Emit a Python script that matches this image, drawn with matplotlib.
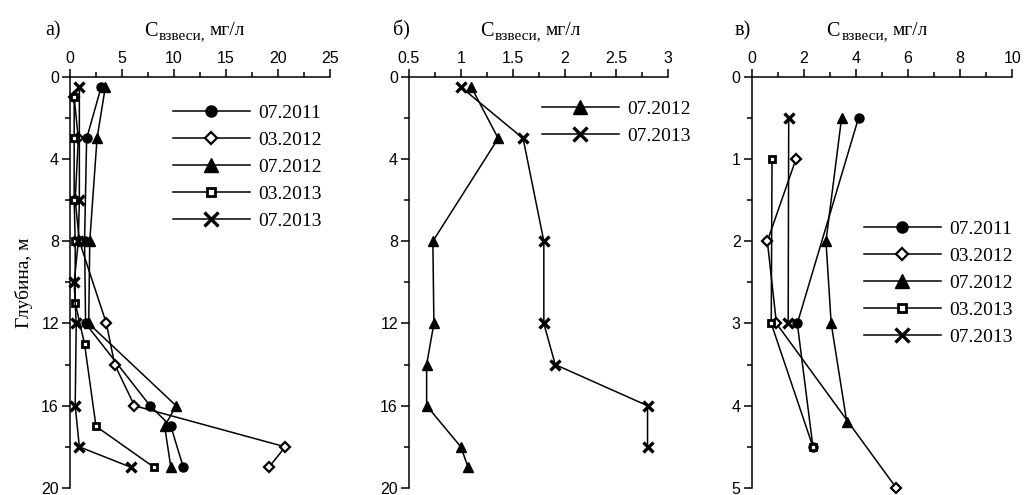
import matplotlib
matplotlib.use("Agg")
from matplotlib import pyplot as plt
from matplotlib.ticker import MultipleLocator
from matplotlib.lines import Line2D

plt.rcParams["font.family"] = ["Liberation Sans", "DejaVu Sans"]

SERIF = ["Liberation Serif", "DejaVu Serif"]

# ---- panel a) ----
a_0711_d = [0.5, 3, 8, 12, 16, 17, 19]
a_0711_v = [3.0, 1.6, 1.4, 1.5, 7.7, 9.7, 10.9]
a_0312_d = [1, 3, 6, 8, 12, 14, 16, 18, 19]
a_0312_v = [0.4, 0.8, 0.5, 0.9, 3.5, 4.3, 6.2, 20.7, 19.1]
a_0712_d = [0.5, 3, 8, 12, 16, 17, 19]
a_0712_v = [3.4, 2.6, 1.9, 1.8, 10.2, 9.1, 9.7]
a_0313_d = [1, 3, 6, 8, 11, 13, 17, 19]
a_0313_v = [0.4, 0.4, 0.4, 0.5, 0.5, 1.4, 2.5, 8.1]
a_0713_d = [0.5, 6, 8, 10, 12, 16, 18, 19]
a_0713_v = [0.9, 0.9, 0.8, 0.4, 0.6, 0.5, 0.9, 5.9]

# ---- panel б) ----
b_0712_d = [0.5, 3, 8, 12, 14, 16, 18, 19]
b_0712_v = [1.10, 1.36, 0.73, 0.74, 0.67, 0.67, 1.00, 1.07]
b_0713_d = [0.5, 3, 8, 12, 14, 16, 18]
b_0713_v = [1.00, 1.60, 1.80, 1.80, 1.91, 2.80, 2.80]

# ---- panel в) ----
c_0711_d = [0.5, 3, 4.5]
c_0711_v = [4.1, 1.75, 2.35]
c_0312_d = [1, 2, 3, 5]
c_0312_v = [1.7, 0.6, 0.95, 5.55]
c_0712_d = [0.5, 2, 3, 4.2]
c_0712_v = [3.45, 2.85, 3.05, 3.65]
c_0313_d = [1, 3, 4.5]
c_0313_v = [0.78, 0.75, 2.35]
c_0713_d = [0.5, 3]
c_0713_v = [1.42, 1.4]

labels = ["07.2011", "03.2012", "07.2012", "03.2013", "07.2013"]

styles = {
    "07.2011": dict(marker="o", ms=6.5, mfc="black", mec="black", mew=1),
    "03.2012": dict(marker="D", ms=4.8, mfc="white", mec="black", mew=1.6),
    "07.2012": dict(marker="^", ms=7.5, mfc="black", mec="black", mew=1),
    "03.2013": dict(marker="s", ms=4.6, mfc="white", mec="black", mew=2.0),
    "07.2013": dict(marker="x", ms=6.5, mfc="black", mec="black", mew=2.4),
}
legend_ms = {"07.2011": 8, "03.2012": 6.5, "07.2012": 10, "03.2013": 6, "07.2013": 9.5}

W, H = 1024, 495
fig = plt.figure(figsize=(W / 100, H / 100), dpi=100)


def make_axes(left, right, xlim, xmaj, xmin, ylim, ymaj, ymin):
    ax = fig.add_axes([left / W, (H - 488) / H, (right - left) / W, (488 - 76.7) / H])
    ax.set_xlim(*xlim)
    ax.set_ylim(ylim, 0)
    ax.xaxis.set_major_locator(MultipleLocator(xmaj))
    ax.xaxis.set_minor_locator(MultipleLocator(xmin))
    ax.yaxis.set_major_locator(MultipleLocator(ymaj))
    ax.yaxis.set_minor_locator(MultipleLocator(ymin))
    ax.xaxis.tick_top()
    ax.spines["right"].set_visible(False)
    ax.spines["bottom"].set_visible(False)
    for s in ("top", "left"):
        ax.spines[s].set_linewidth(1.1)
    ax.tick_params(which="major", direction="out", length=6, width=1.1, labelsize=11.5, pad=2)
    ax.tick_params(which="minor", direction="out", length=3.5, width=1.1)
    ax.xaxis.set_major_formatter(plt.FuncFormatter(lambda x, p: f"{x:g}"))
    ax.patch.set_alpha(0)
    return ax


def draw(ax, series):
    for lab, v, d in series:
        ax.plot(v, d, color="black", lw=1.1, clip_on=False, label=lab, **styles[lab])


def add_title(left, letter, letter_dx, title_dx):
    # title "C взвеси, мг/л" composed of three pieces, plus the panel letter
    fig.text((left + letter_dx) / W, 1 - 35 / H, letter, family=SERIF, fontsize=14.5,
             va="baseline")
    x = left + title_dx
    fig.text(x / W, 1 - 36 / H, "C", family=SERIF, fontsize=14.5, va="baseline")
    fig.text((x + 15) / W, 1 - 39 / H, "взвеси,", family=SERIF, fontsize=11,
             va="baseline")
    fig.text((x + 66) / W, 1 - 35 / H, "мг/л", family=SERIF, fontsize=14,
             va="baseline")


def add_legend(names, x0, ytop):
    handles = []
    for n in names:
        st = dict(styles[n])
        st["ms"] = legend_ms[n]
        handles.append(Line2D([], [], color="black", lw=1.1, **st))
    fig.legend(handles, names, loc="upper left",
               bbox_to_anchor=(x0 / W, 1 - ytop / H), frameon=False,
               prop={"family": SERIF, "size": 14}, handlelength=3.95,
               handletextpad=0.45, labelspacing=0.49, borderpad=0,
               borderaxespad=0)


# panel a
ax1 = make_axes(70, 330, (0, 25), 5, 2.5, 20, 4, 2)
draw(ax1, [("07.2011", a_0711_v, a_0711_d), ("03.2012", a_0312_v, a_0312_d),
           ("07.2012", a_0712_v, a_0712_d), ("03.2013", a_0313_v, a_0313_d),
           ("07.2013", a_0713_v, a_0713_d)])
ax1.set_ylabel("Глубина, м", family=SERIF, fontsize=14, labelpad=6)
add_title(70, "а)", -25, 74)
add_legend(labels, 173, 104)

# panel b
ax2 = make_axes(409, 668.3, (0.5, 3), 0.5, 0.25, 20, 4, 2)
draw(ax2, [("07.2012", b_0712_v, b_0712_d), ("07.2013", b_0713_v, b_0713_d)])
add_title(409, "б)", -16, 71)
add_legend(["07.2012", "07.2013"], 542, 100)

# panel c
ax3 = make_axes(751.7, 1012.3, (0, 10), 2, 1, 5, 1, 0.5)
draw(ax3, [("07.2011", c_0711_v, c_0711_d), ("03.2012", c_0312_v, c_0312_d),
           ("07.2012", c_0712_v, c_0712_d), ("03.2013", c_0313_v, c_0313_d),
           ("07.2013", c_0713_v, c_0713_d)])
add_title(751.7, "в)", -17, 74.5)
add_legend(labels, 864, 220)

fig.savefig("out.png", dpi=100)
